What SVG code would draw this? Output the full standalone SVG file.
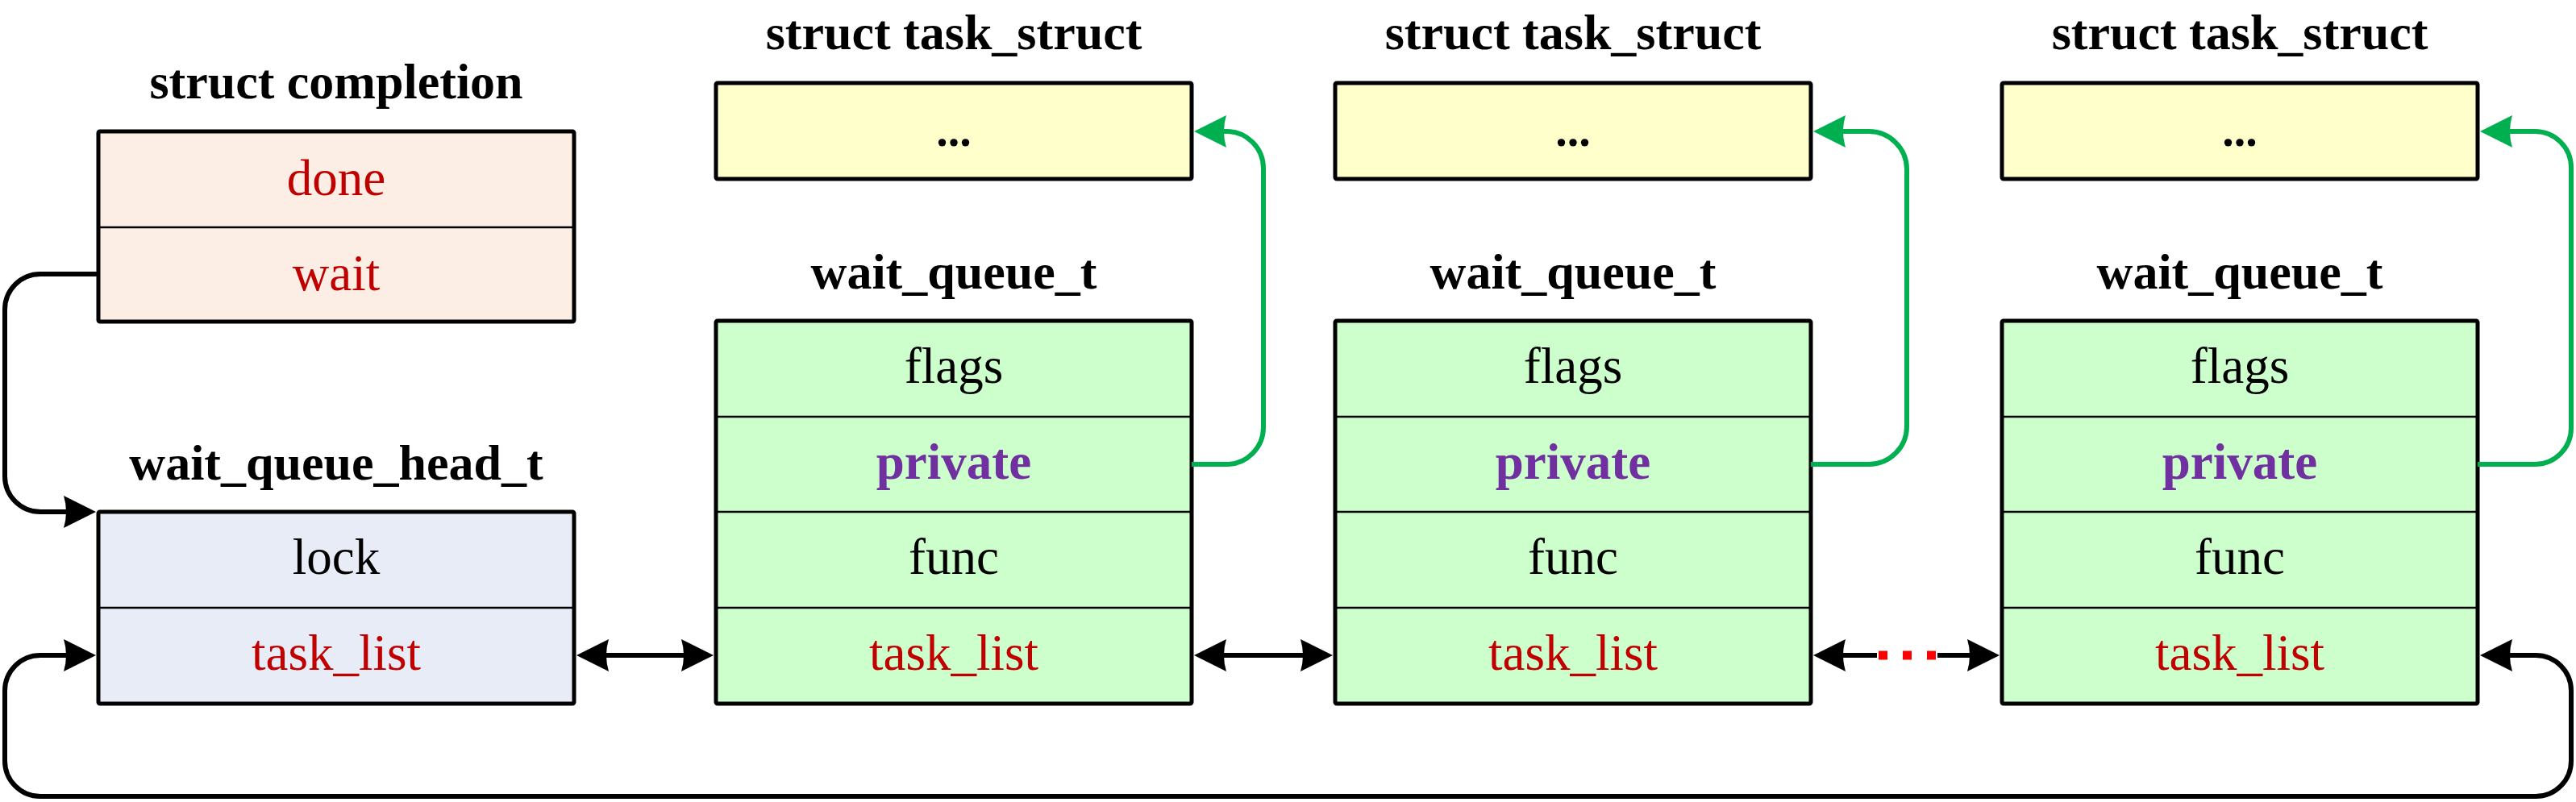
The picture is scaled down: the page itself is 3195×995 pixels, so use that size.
<svg xmlns="http://www.w3.org/2000/svg" width="3195" height="995" viewBox="0 0 3195 995">
<style>
.title{font-family:"Liberation Serif","Times New Roman",serif;font-weight:bold;font-size:62px;fill:#000;text-anchor:middle}
.fld{font-family:"Liberation Serif","Times New Roman",serif;font-size:63px;text-anchor:middle}
.blk{fill:#000}
.red{fill:#C00000}
.pur{fill:#7030A0;font-weight:bold}
.dots{font-family:"Liberation Serif","Times New Roman",serif;font-weight:bold;font-size:58px;text-anchor:middle;fill:#000}
.box{stroke:#000;stroke-width:5}
.div{stroke:#000;stroke-width:2.5}
.conn{fill:none;stroke:#000;stroke-width:6}
.gconn{fill:none;stroke:#00B050;stroke-width:6}
</style>
<defs>
<marker id="ah" viewBox="-12 -22 44 44" refX="0" refY="0" markerWidth="44" markerHeight="44" markerUnits="userSpaceOnUse" orient="auto-start-reverse"><path d="M30,0 L-10,-20 Q-4,0 -10,20 Z" fill="#000"/></marker>
<marker id="gah" viewBox="-12 -22 44 44" refX="0" refY="0" markerWidth="44" markerHeight="44" markerUnits="userSpaceOnUse" orient="auto-start-reverse"><path d="M30,0 L-10,-20 Q-4,0 -10,20 Z" fill="#00B050"/></marker>
</defs>

<g id="completion">
<text class="title" x="417" y="122">struct completion</text>
<rect class="box" x="122" y="163" width="590" height="236" rx="2" fill="#FCEEE4"/>
<line class="div" x1="122" y1="282" x2="712" y2="282"/>
<text class="fld red" x="417" y="242">done</text>
<text class="fld red" x="417" y="360">wait</text>
</g>

<g id="wait_queue_head">
<text class="title" x="417" y="595">wait_queue_head_t</text>
<rect class="box" x="122" y="635" width="590" height="238" rx="2" fill="#E7ECF7"/>
<line class="div" x1="122" y1="754" x2="712" y2="754"/>
<text class="fld blk" x="417" y="712">lock</text>
<text class="fld red" x="417" y="831">task_list</text>
</g>

<g id="task1">
<text class="title" x="1183" y="61">struct task_struct</text>
<rect class="box" x="888" y="103" width="590" height="119" rx="2" fill="#FFFFCC"/>
<text class="dots" x="1183" y="181">...</text>
</g>
<g id="wq1">
<text class="title" x="1183" y="358">wait_queue_t</text>
<rect class="box" x="888" y="398" width="590" height="475" rx="2" fill="#CCFFCC"/>
<line class="div" x1="888" y1="517" x2="1478" y2="517"/>
<line class="div" x1="888" y1="635" x2="1478" y2="635"/>
<line class="div" x1="888" y1="754" x2="1478" y2="754"/>
<text class="fld blk" x="1183" y="475">flags</text>
<text class="fld pur" x="1183" y="594">private</text>
<text class="fld blk" x="1183" y="712">func</text>
<text class="fld red" x="1183" y="831">task_list</text>
</g>

<g id="task2">
<text class="title" x="1951" y="61">struct task_struct</text>
<rect class="box" x="1656" y="103" width="590" height="119" rx="2" fill="#FFFFCC"/>
<text class="dots" x="1951" y="181">...</text>
</g>
<g id="wq2">
<text class="title" x="1951" y="358">wait_queue_t</text>
<rect class="box" x="1656" y="398" width="590" height="475" rx="2" fill="#CCFFCC"/>
<line class="div" x1="1656" y1="517" x2="2246" y2="517"/>
<line class="div" x1="1656" y1="635" x2="2246" y2="635"/>
<line class="div" x1="1656" y1="754" x2="2246" y2="754"/>
<text class="fld blk" x="1951" y="475">flags</text>
<text class="fld pur" x="1951" y="594">private</text>
<text class="fld blk" x="1951" y="712">func</text>
<text class="fld red" x="1951" y="831">task_list</text>
</g>

<g id="task3">
<text class="title" x="2778" y="61">struct task_struct</text>
<rect class="box" x="2483" y="103" width="590" height="119" rx="2" fill="#FFFFCC"/>
<text class="dots" x="2778" y="181">...</text>
</g>
<g id="wq3">
<text class="title" x="2778" y="358">wait_queue_t</text>
<rect class="box" x="2483" y="398" width="590" height="475" rx="2" fill="#CCFFCC"/>
<line class="div" x1="2483" y1="517" x2="3073" y2="517"/>
<line class="div" x1="2483" y1="635" x2="3073" y2="635"/>
<line class="div" x1="2483" y1="754" x2="3073" y2="754"/>
<text class="fld blk" x="2778" y="475">flags</text>
<text class="fld pur" x="2778" y="594">private</text>
<text class="fld blk" x="2778" y="712">func</text>
<text class="fld red" x="2778" y="831">task_list</text>
</g>

<g id="connectors">
<path class="conn" d="M122,340 H50 A44,44 0 0 0 6,384 V591 A44,44 0 0 0 50,635 H89" marker-end="url(#ah)"/>
<path class="conn" d="M89,813 H50 A44,44 0 0 0 6,857 V944 A44,44 0 0 0 50,988 H3145 A44,44 0 0 0 3189,944 V857 A44,44 0 0 0 3145,813 H3106" marker-start="url(#ah)" marker-end="url(#ah)"/>
<path class="conn" d="M745,813 H855" marker-start="url(#ah)" marker-end="url(#ah)"/>
<path class="conn" d="M1511,813 H1623" marker-start="url(#ah)" marker-end="url(#ah)"/>
<path class="conn" d="M2279,813 H2328" marker-start="url(#ah)"/>
<path d="M2330,813 H2402" fill="none" stroke="#FF0000" stroke-width="11" stroke-dasharray="11 19"/>
<path class="conn" d="M2403,813 H2450" marker-end="url(#ah)"/>
<path class="gconn" d="M1478,576 H1521 A46,46 0 0 0 1567,530 V209 A46,46 0 0 0 1521,163 H1511" marker-end="url(#gah)"/>
<path class="gconn" d="M2246,576 H2318 A47,47 0 0 0 2365,529 V210 A47,47 0 0 0 2318,163 H2279" marker-end="url(#gah)"/>
<path class="gconn" d="M3073,576 H3144 A45,45 0 0 0 3189,531 V208 A45,45 0 0 0 3144,163 H3106" marker-end="url(#gah)"/>
</g>
</svg>
